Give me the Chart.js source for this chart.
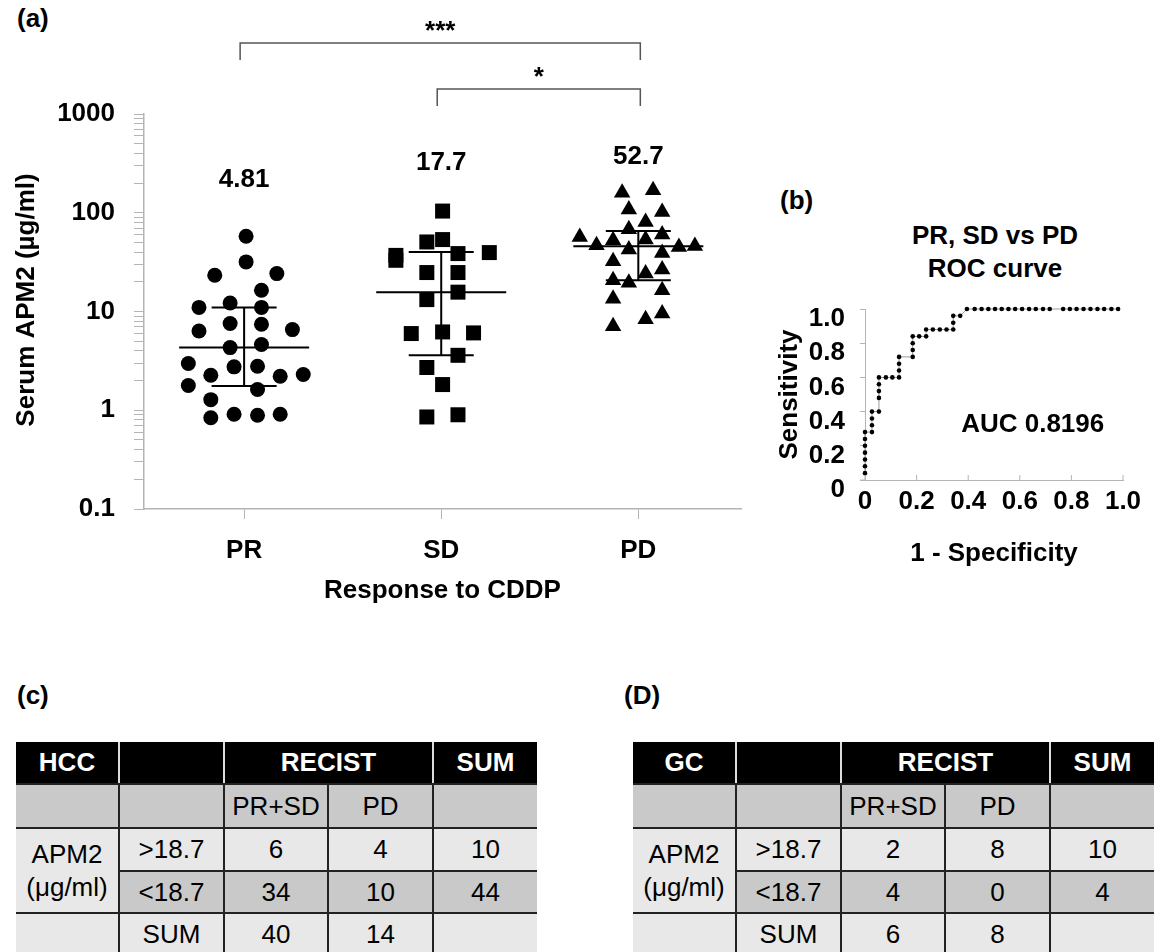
<!DOCTYPE html>
<html><head><meta charset="utf-8">
<script src="https://cdn.jsdelivr.net/npm/chart.js@4.4.1/dist/chart.umd.min.js"></script>
<style>
html,body{margin:0;padding:0;background:#fff;}
body{width:1157px;height:952px;position:relative;overflow:hidden;font-family:"Liberation Sans",Arial,sans-serif;color:#000;}
canvas{position:absolute;}
.lbl{position:absolute;font-weight:bold;font-size:26px;line-height:30px;white-space:nowrap;}
.ctr{transform:translateX(-50%);text-align:center;}
table{position:absolute;border-collapse:collapse;table-layout:fixed;font-size:26px;}
td{border:2px solid #222;text-align:center;vertical-align:middle;padding:0;white-space:nowrap;}
tr td:first-child{border-left:none;}
tr td:last-child{border-right:none;}
tr.h td{background:#000;color:#fff;font-weight:bold;border-top:none;border-left:2px solid #ddd;border-right:2px solid #ddd;}
tr.h td:first-child{border-left:none;}
tr.h td:last-child{border-right:none;}
.g td{background:#c9c9c9;}
.l td{background:#e8e8e8;}
td.apm{background:#e8e8e8 !important;line-height:33px;}
</style></head>
<body>
<div class="lbl" style="left:17px;top:3px;">(a)</div>
<div class="lbl" style="left:780px;top:185px;">(b)</div>
<div class="lbl" style="left:17px;top:680px;">(c)</div>
<div class="lbl" style="left:624px;top:680px;">(D)</div>
<div class="lbl ctr" style="left:995px;top:219px;line-height:33px;">PR, SD vs PD<br>ROC curve</div>
<canvas id="cA" width="760" height="620" style="left:0;top:0;width:760px;height:620px;"></canvas>
<canvas id="cB" width="397" height="400" style="left:760px;top:180px;width:397px;height:400px;"></canvas>
<div id="tables"></div>
<script>
// ---------- data ----------
const categories = ['PR', 'SD', 'PD'];
const prValues = [57.8, 31.8, 23.3, 24.2, 16.4, 11.0, 12.2, 11.0, 7.55, 7.43, 6.35, 6.56, 4.31, 4.63, 2.97, 2.26, 2.75, 2.79, 2.21, 2.30, 1.78, 1.62, 1.28, 0.84, 0.91, 0.89, 0.91];
const prJitter = [0.01, 0.01, -0.149, 0.166, 0.088, -0.229, -0.071, 0.088, -0.071, 0.088, -0.229, 0.245, -0.071, 0.088, -0.283, -0.169, -0.051, 0.068, 0.183, 0.3, -0.283, 0.068, -0.169, -0.169, -0.051, 0.068, 0.183];
const sdValues = [104, 50.6, 53.5, 37, 33, 38.6, 39.5, 24.8, 24.8, 15.7, 13.2, 5.98, 6.21, 6.07, 3.6, 2.71, 1.82, 0.855, 0.90];
const sdJitter = [0.007, -0.073, 0.007, -0.23, -0.23, 0.085, 0.244, -0.073, 0.085, 0.085, -0.073, -0.152, 0.007, 0.164, 0.085, -0.073, 0.007, -0.073, 0.085];
const pdValues = [159, 169, 108, 102, 80.7, 68, 60.1, 56.9, 46.9, 52.7, 53.5, 45.1, 46.1, 42.4, 39.2, 32.3, 26.6, 24.2, 20.7, 19.5, 16.4, 13.5, 9.53, 8.35, 7.09];
const pdJitter = [-0.082, 0.075, -0.048, 0.121, 0.037, -0.048, 0.121, -0.297, -0.212, -0.128, 0.037, 0.206, 0.287, -0.048, 0.121, -0.128, 0.121, 0.037, -0.128, -0.048, 0.121, -0.128, 0.121, 0.037, -0.128];
const meanValues = [4.31, 15.7, 45.8];
const upperValues = [11.0, 40.0, 65.4];
const lowerValues = [1.76, 3.6, 20.7];
const groupLabels = ['4.81', '17.7', '52.7'];
const sigPairs = [[0, 2, '***'], [1, 2, '*']];
const yMajorTicks = [0.1, 1, 10, 100, 1000];
const yMinorFactors = [2, 3, 4, 5, 6, 7, 8, 9];

const rocFpr = [0, 0, 0, 0, 0, 0, 0, 0.027, 0.027, 0.027, 0.027, 0.054, 0.054, 0.054, 0.054, 0.054, 0.081, 0.106, 0.132, 0.132, 0.132, 0.132, 0.185, 0.185, 0.185, 0.185, 0.21, 0.237, 0.237, 0.263, 0.29, 0.316, 0.342, 0.342, 0.342, 0.369, 0.395, 0.425, 0.452, 0.478, 0.504, 0.530, 0.556, 0.582, 0.609, 0.636, 0.662, 0.690, 0.716, 0.768, 0.794, 0.820, 0.847, 0.874, 0.901, 0.927, 0.955, 0.981];
const rocTpr = [0.04, 0.08, 0.12, 0.16, 0.20, 0.24, 0.28, 0.28, 0.32, 0.36, 0.40, 0.40, 0.48, 0.52, 0.56, 0.60, 0.60, 0.60, 0.60, 0.64, 0.68, 0.72, 0.72, 0.76, 0.80, 0.84, 0.84, 0.84, 0.88, 0.88, 0.88, 0.88, 0.88, 0.92, 0.96, 0.96, 1.0, 1.0, 1.0, 1.0, 1.0, 1.0, 1.0, 1.0, 1.0, 1.0, 1.0, 1.0, 1.0, 1.0, 1.0, 1.0, 1.0, 1.0, 1.0, 1.0, 1.0, 1.0];
const rocTicks = [0, 0.2, 0.4, 0.6, 0.8, 1.0];
const rocTickLabels = ['0', '0.2', '0.4', '0.6', '0.8', '1.0'];
const aucText = 'AUC 0.8196';

const hccName = 'HCC', gcName = 'GC';
const hccCounts = [[6, 4, 10], [34, 10, 44]];
const hccSums = [40, 14];
const gcCounts = [[2, 8, 10], [4, 0, 4]];
const gcSums = [6, 8];
const cutLabels = ['>18.7', '<18.7'];

// ---------- tables ----------
function makeTable(left, name, counts, sums) {
  const t = document.createElement('table');
  t.style.left = left + 'px'; t.style.top = '742px'; t.style.width = '521px';
  const widths = [103, 105, 104, 105, 104];
  let html = '<colgroup>' + widths.map(w => '<col style="width:' + w + 'px">').join('') + '</colgroup>';
  html += '<tr class="h" style="height:42px"><td>' + name + '</td><td></td><td colspan="2">RECIST</td><td>SUM</td></tr>';
  html += '<tr class="g" style="height:44px"><td></td><td></td><td>PR+SD</td><td>PD</td><td></td></tr>';
  html += '<tr class="l" style="height:43px"><td rowspan="2" class="apm">APM2<br>(\u03bcg/ml)</td><td>' + cutLabels[0].replace('>', '&gt;') + '</td>' + counts[0].map(v => '<td>' + v + '</td>').join('') + '</tr>';
  html += '<tr class="g" style="height:42px"><td>' + cutLabels[1].replace('<', '&lt;') + '</td>' + counts[1].map(v => '<td>' + v + '</td>').join('') + '</tr>';
  html += '<tr class="l" style="height:43px"><td></td><td>SUM</td>' + sums.map(v => '<td>' + v + '</td>').join('') + '<td></td></tr>';
  t.innerHTML = html;
  document.getElementById('tables').appendChild(t);
}
makeTable(16, hccName, hccCounts, hccSums);
makeTable(633, gcName, gcCounts, gcSums);

// ---------- charts ----------
const FF = '"Liberation Sans", Arial, sans-serif';
Chart.defaults.font.family = FF;
Chart.defaults.color = '#000';
const bold = (s) => ({family: FF, size: s, weight: 'bold'});
const AXIS_GRAY = '#b4b4b4';

const yTickList = [];
yMajorTicks.forEach((p, i) => {
  yTickList.push(p);
  if (i < yMajorTicks.length - 1) yMinorFactors.forEach(f => yTickList.push(p * f));
});

const panelA = {
  id: 'panelA',
  afterDatasetsDraw(chart) {
    const {ctx, scales: {x, y}} = chart;
    ctx.save();
    ctx.strokeStyle = '#000'; ctx.lineWidth = 2;
    meanValues.forEach((m, i) => {
      const cx = x.getPixelForValue(i);
      const ym = y.getPixelForValue(m), yu = y.getPixelForValue(upperValues[i]), yl = y.getPixelForValue(lowerValues[i]);
      ctx.beginPath();
      ctx.moveTo(cx - 65, ym); ctx.lineTo(cx + 65, ym);
      ctx.moveTo(cx - 32.5, yu); ctx.lineTo(cx + 32.5, yu);
      ctx.moveTo(cx - 32.5, yl); ctx.lineTo(cx + 32.5, yl);
      ctx.moveTo(cx, yu); ctx.lineTo(cx, yl);
      ctx.stroke();
    });
    const labelY = [180, 163, 157];
    ctx.fillStyle = '#000';
    ctx.font = 'bold 26px ' + FF;
    ctx.textAlign = 'center'; ctx.textBaseline = 'middle';
    groupLabels.forEach((t, i) => ctx.fillText(t, x.getPixelForValue(i), labelY[i]));
    const bracketY = [43, 89];
    ctx.strokeStyle = '#555'; ctx.lineWidth = 1.5;
    sigPairs.forEach(([a, b, s], k) => {
      const x1 = x.getPixelForValue(a) - 4, x2 = x.getPixelForValue(b) + 2, by = bracketY[k];
      ctx.beginPath();
      ctx.moveTo(x1, by + 17); ctx.lineTo(x1, by); ctx.lineTo(x2, by); ctx.lineTo(x2, by + 17);
      ctx.stroke();
      ctx.textBaseline = 'alphabetic';
      ctx.font = 'bold 26px ' + FF;
      ctx.fillText(s, (x1 + x2) / 2, by - 4);
    });
    ctx.save();
    ctx.translate(27, 300);
    ctx.rotate(-Math.PI / 2);
    ctx.textAlign = 'center'; ctx.textBaseline = 'middle';
    ctx.font = 'bold 26px ' + FF;
    ctx.fillText('Serum APM2 (\u00b5g/ml)', 0, 0);
    ctx.restore();
    ctx.restore();
  }
};

const mk = (vals, jit, c) => vals.map((v, i) => ({x: c + jit[i], y: v}));

new Chart(document.getElementById('cA'), {
  type: 'scatter',
  data: {
    datasets: [
      {data: mk(prValues, prJitter, 0), pointStyle: 'circle', pointRadius: 7.5, backgroundColor: '#000', borderWidth: 0, clip: false},
      {data: mk(sdValues, sdJitter, 1), pointStyle: 'rect', pointRadius: 10.6, backgroundColor: '#000', borderWidth: 0, clip: false},
      {data: mk(pdValues, pdJitter, 2), pointStyle: 'triangle', pointRadius: 9.5, backgroundColor: '#000', borderWidth: 0, clip: false}
    ]
  },
  options: {
    responsive: false, animation: false, events: [],
    layout: {padding: {top: 114, right: 19, left: 0, bottom: 0}},
    plugins: {legend: {display: false}, tooltip: {enabled: false}},
    scales: {
      x: {
        type: 'linear', min: -0.508, max: 2.521,
        afterBuildTicks: (s) => { s.ticks = categories.map((c, i) => ({value: i})); },
        afterFit: (s) => { s.height = 111; },
        ticks: {callback: (v) => categories[v], font: bold(26), color: '#000', padding: 16, maxRotation: 0, autoSkip: false},
        grid: {drawOnChartArea: false, tickLength: 10, color: AXIS_GRAY, lineWidth: 1},
        border: {color: AXIS_GRAY, width: 1.5},
        title: {display: true, text: 'Response to CDDP', font: bold(26), color: '#000', padding: {top: 0, bottom: 14}}
      },
      y: {
        type: 'logarithmic', min: 0.1, max: 1000,
        afterBuildTicks: (s) => { s.ticks = yTickList.map(v => ({value: v})); },
        afterFit: (s) => { s.width = 144; },
        ticks: {callback: (v) => (yMajorTicks.includes(v) ? String(v) : ''), font: bold(26), color: '#000', padding: 19, autoSkip: false},
        grid: {drawOnChartArea: false, tickLength: 10, color: AXIS_GRAY, lineWidth: 1},
        border: {color: AXIS_GRAY, width: 1.5}
      }
    }
  },
  plugins: [panelA]
});

const panelB = {
  id: 'panelB',
  afterDraw(chart) {
    const {ctx, scales: {x, y}} = chart;
    ctx.save();
    ctx.strokeStyle = AXIS_GRAY; ctx.lineWidth = 1;
    const by = y.getPixelForValue(0);
    ctx.beginPath();
    ctx.moveTo(x.left - 5, by); ctx.lineTo(x.left, by);
    rocTicks.forEach(t => { const px = x.getPixelForValue(t); ctx.moveTo(px, by); ctx.lineTo(px, by - 5); });
    ctx.stroke();
    ctx.fillStyle = '#000';
    ctx.font = 'bold 26px ' + FF;
    ctx.textAlign = 'center'; ctx.textBaseline = 'middle';
    ctx.fillText(aucText, x.getPixelForValue(0.65), y.getPixelForValue(0.32));
    ctx.restore();
  }
};

new Chart(document.getElementById('cB'), {
  type: 'scatter',
  data: {
    datasets: [{
      data: rocFpr.map((f, i) => ({x: f, y: rocTpr[i]})),
      showLine: true, borderColor: '#9a9a9a', borderWidth: 1,
      pointRadius: 2.3, pointBackgroundColor: '#000', pointBorderWidth: 0, clip: false
    }]
  },
  options: {
    responsive: false, animation: false, events: [],
    layout: {padding: {top: 129, right: 34, left: 0, bottom: 0}},
    plugins: {legend: {display: false}, tooltip: {enabled: false}},
    scales: {
      x: {
        type: 'linear', min: 0, max: 1,
        afterBuildTicks: (s) => { s.ticks = rocTicks.map(v => ({value: v})); },
        afterFit: (s) => { s.height = 100; },
        ticks: {callback: (v, i) => rocTickLabels[i], font: bold(26), color: '#000', padding: 6, maxRotation: 0, autoSkip: false},
        grid: {drawOnChartArea: false, drawTicks: false, tickLength: 5, color: AXIS_GRAY},
        border: {color: AXIS_GRAY, width: 1},
        title: {display: true, text: '1 - Specificity', font: bold(26), color: '#000', padding: {top: 0, bottom: 11}}
      },
      y: {
        type: 'linear', min: 0, max: 1,
        afterBuildTicks: (s) => { s.ticks = rocTicks.map(v => ({value: v})); },
        afterFit: (s) => { s.width = 105; },
        ticks: {callback: (v, i) => rocTickLabels[i], font: bold(26), color: '#000', padding: 15, labelOffset: 10, autoSkip: false},
        grid: {drawOnChartArea: false, tickLength: 5, color: AXIS_GRAY},
        border: {color: AXIS_GRAY, width: 1},
        title: {display: true, text: 'Sensitivity', font: bold(26), color: '#000', padding: {top: 14}}
      }
    }
  },
  plugins: [panelB]
});
</script>
</body></html>
